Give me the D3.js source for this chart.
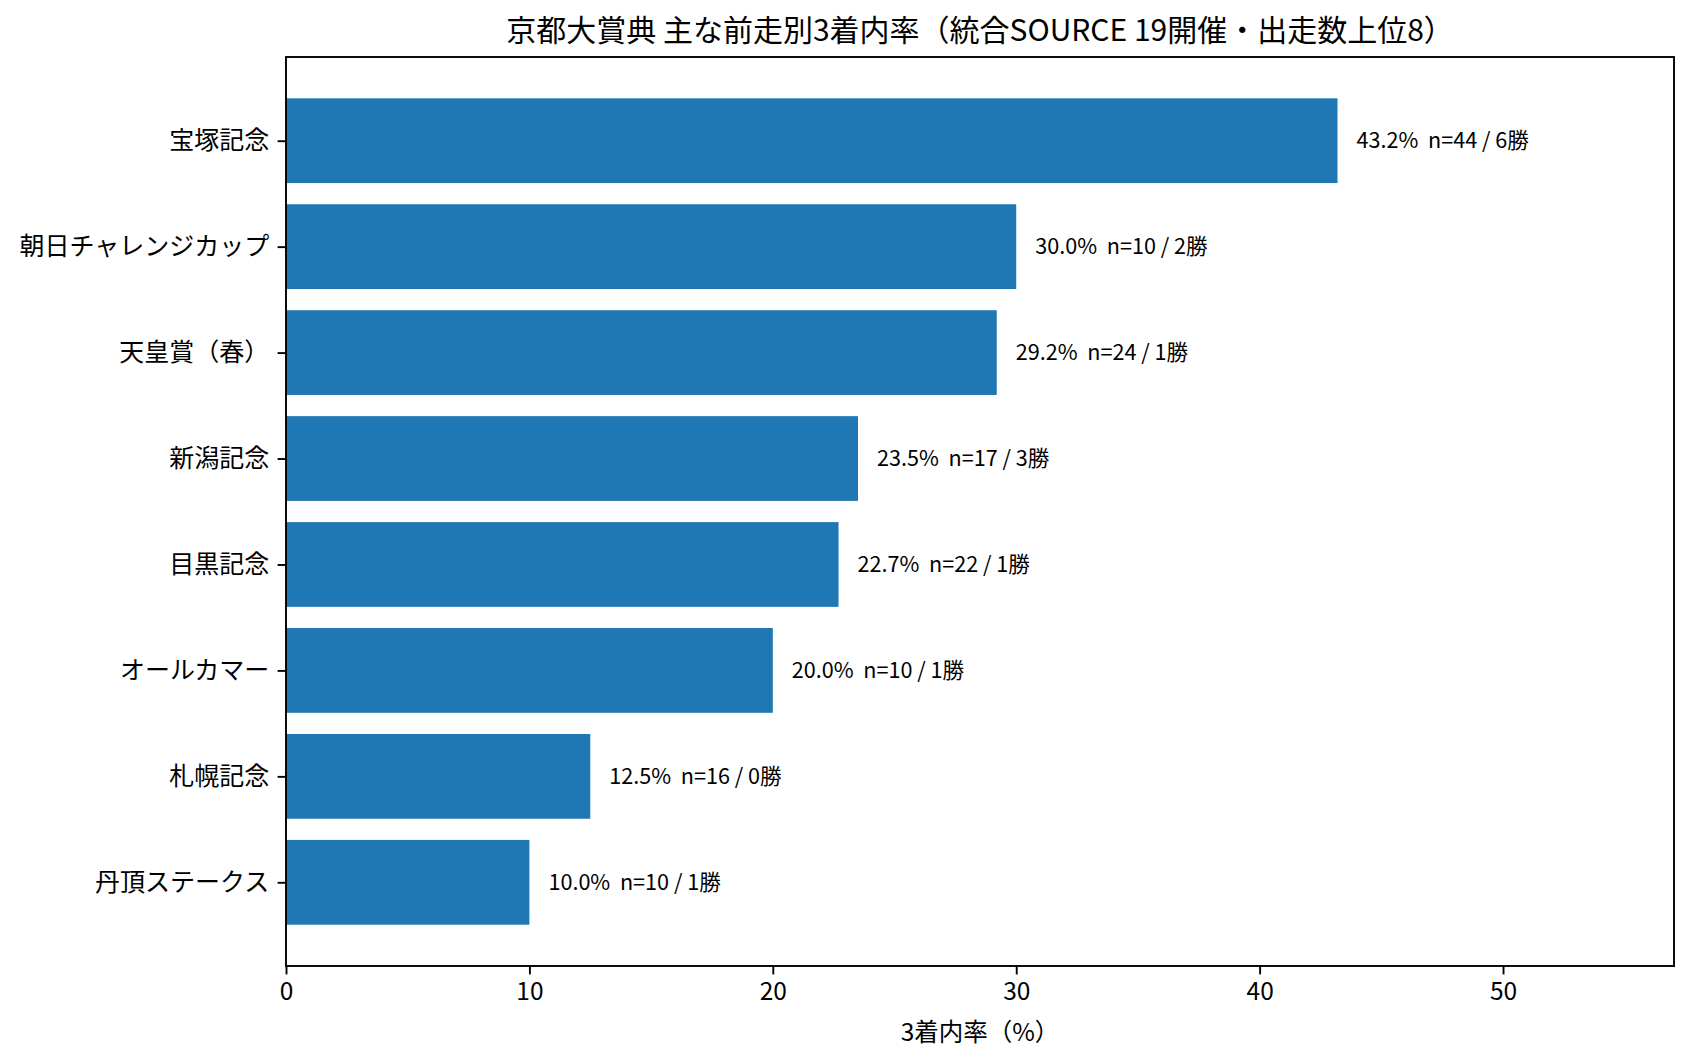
<!DOCTYPE html>
<html>
<head>
  <meta charset="utf-8">
  <style>
    body { margin: 0; background: #fff; }
    text { font-family: "Noto Sans CJK JP", "Noto Sans", sans-serif; fill: #000; }
  </style>
</head>
<body>
<script src="https://d3js.org/d3.v7.min.js"></script>
<script>

// data
var races = ["宝塚記念", "朝日チャレンジカップ", "天皇賞（春）", "新潟記念", "目黒記念", "オールカマー", "札幌記念", "丹頂ステークス"];
var top3Rate = [43.2, 30.0, 29.2, 23.5, 22.7, 20.0, 12.5, 10.0];
var runners = [44, 10, 24, 17, 22, 10, 16, 10];
var wins = [6, 2, 1, 3, 1, 1, 0, 1];
var xTicks = [0, 10, 20, 30, 40, 50];

var width = 1692, height = 1064;
var margin = {left: 286, right: 18, top: 57, bottom: 98};
var innerW = width - margin.left - margin.right;
var innerH = height - margin.top - margin.bottom;

var svg = d3.select("body").append("svg")
  .attr("width", width)
  .attr("height", height);

var g = svg.append("g")
  .attr("transform", "translate(" + margin.left + "," + margin.top + ")");

// matplotlib style limits: 5% margin on y, x up to max*1.32
var x = d3.scaleLinear()
  .domain([0, d3.max(top3Rate) * 1.32])
  .range([0, innerW]);

var y = d3.scaleLinear()
  .domain([-0.79, races.length - 1 + 0.79])
  .range([0, innerH]);

var barH = 0.8;

g.selectAll("rect.bar")
  .data(races)
  .enter().append("rect")
  .attr("class", "bar")
  .attr("x", x(0))
  .attr("y", function(d, i) { return y(i - barH / 2); })
  .attr("width", function(d, i) { return x(top3Rate[i]) - x(0); })
  .attr("height", y(barH) - y(0))
  .attr("fill", "#1f77b4");

// value labels
g.selectAll("text.val")
  .data(races)
  .enter().append("text")
  .attr("class", "val")
  .attr("x", function(d, i) { return x(top3Rate[i]) + 19; })
  .attr("y", function(d, i) { return y(i); })
  .attr("dy", "0.35em")
  .style("font-size", "21.6px")
  .style("white-space", "pre")
  .text(function(d, i) {
    return top3Rate[i].toFixed(1) + "%  n=" + runners[i] + " / " + wins[i] + "勝";
  });

// x axis
var xAxis = g.append("g")
  .attr("transform", "translate(0," + innerH + ")")
  .call(d3.axisBottom(x).tickValues(xTicks).tickSize(8.4).tickSizeOuter(0).tickPadding(8.4));
xAxis.select(".domain").remove();
xAxis.selectAll(".tick line").attr("stroke", "#000").attr("stroke-width", 1.9);
xAxis.selectAll(".tick text").style("font-size", "24.5px").attr("fill", "#000");

// y axis
var yAxis = g.append("g")
  .call(d3.axisLeft(y).tickValues(d3.range(races.length))
    .tickFormat(function(i) { return races[i]; })
    .tickSize(8.4).tickSizeOuter(0).tickPadding(8.4));
yAxis.select(".domain").remove();
yAxis.selectAll(".tick line").attr("stroke", "#000").attr("stroke-width", 1.9);
yAxis.selectAll(".tick text").style("font-size", "25px").attr("fill", "#000");

// frame
g.append("rect")
  .attr("width", innerW)
  .attr("height", innerH)
  .attr("fill", "none")
  .attr("stroke", "#000")
  .attr("stroke-width", 1.9);

// titles
svg.append("text")
  .attr("x", margin.left + innerW / 2)
  .attr("y", 41)
  .attr("text-anchor", "middle")
  .style("font-size", "30px")
  .text("京都大賞典 主な前走別3着内率（統合SOURCE 19開催・出走数上位8）");

svg.append("text")
  .attr("x", margin.left + innerW / 2)
  .attr("y", 1041)
  .attr("text-anchor", "middle")
  .style("font-size", "24.5px")
  .text("3着内率（%）");

</script>
</body>
</html>
